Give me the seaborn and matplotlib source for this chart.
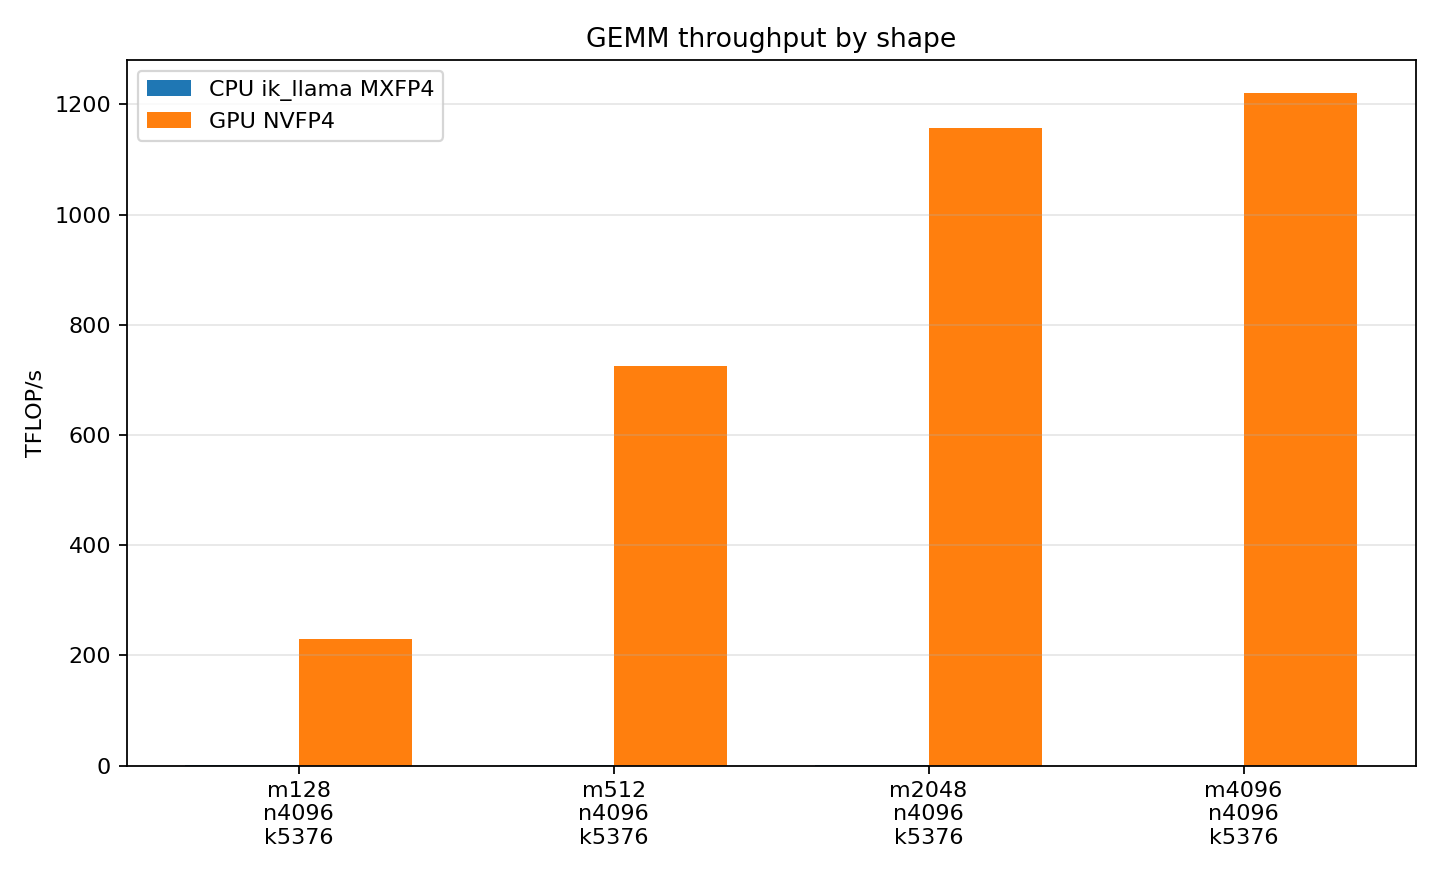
import seaborn as sns
import matplotlib
matplotlib.use("Agg")
import matplotlib.pyplot as plt
import pandas as pd

shapes = ["m128\nn4096\nk5376", "m512\nn4096\nk5376", "m2048\nn4096\nk5376", "m4096\nn4096\nk5376"]
cpu_tflops = [0.4, 0.5, 0.5, 0.5]
gpu_tflops = [230, 725, 1158, 1220]
series = ["CPU ik_llama MXFP4", "GPU NVFP4"]

df = pd.DataFrame({
    "shape": shapes * 2,
    "backend": [series[0]] * len(shapes) + [series[1]] * len(shapes),
    "tflops": cpu_tflops + gpu_tflops,
})

fig, ax = plt.subplots(figsize=(9, 5.5), dpi=160)
sns.barplot(data=df, x="shape", y="tflops", hue="backend", order=shapes,
            hue_order=series, palette=["#1f77b4", "#ff7f0e"], width=0.72,
            saturation=1, errorbar=None, ax=ax)

# back to matplotlib's usual margins instead of seaborn's category limits
ax.set_autoscalex_on(True)
ax.margins(x=0.05)
ax.autoscale_view()

ax.set_xlabel("")
ax.set_ylabel("TFLOP/s")
ax.set_title("GEMM throughput by shape")
ax.grid(axis="y", alpha=0.3)
ax.legend(loc="upper left")

fig.subplots_adjust(left=0.088, right=0.983, top=0.932, bottom=0.13)
plt.savefig("out.png")
